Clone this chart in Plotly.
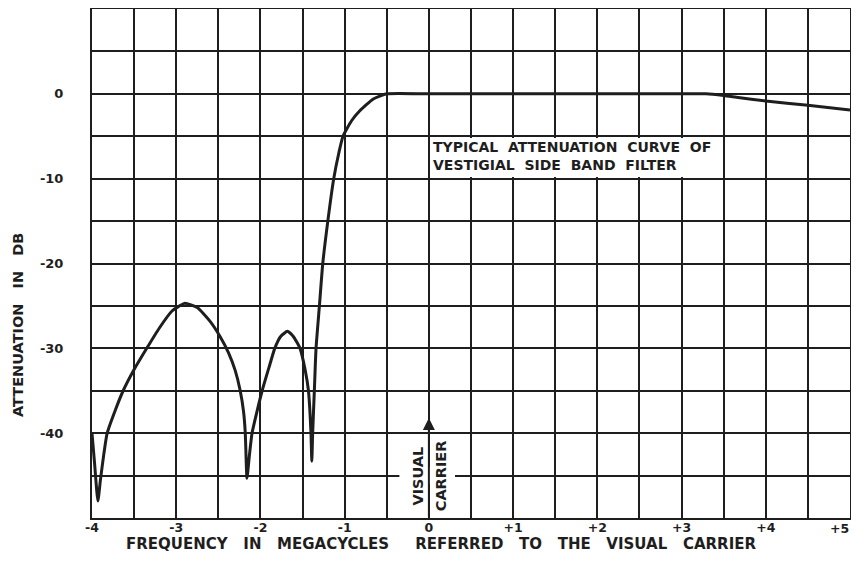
import plotly.graph_objects as go

# Attenuation curve (MHz relative to visual carrier, dB)
freq_mhz = [-4.00, -3.97, -3.93, -3.90, -3.86, -3.82, -3.72, -3.63, -3.50, -3.35, -3.20, -3.05,
            -2.90, -2.75, -2.60, -2.48, -2.38, -2.30, -2.24, -2.20, -2.18, -2.16,
            -2.13, -2.10, -2.04, -1.98, -1.90, -1.83, -1.76, -1.68, -1.61, -1.53, -1.47, -1.43,
            -1.40, -1.39, -1.38, -1.36, -1.34, -1.30, -1.26, -1.20, -1.13, -1.07, -1.02,
            -0.92, -0.82, -0.66, -0.50, 0.0, 1.0, 2.0, 3.0, 3.29, 3.5, 3.65, 4.0, 4.5, 5.0]
atten_db = [-40.0, -43.5, -48.0, -45.5, -42.5, -40.0, -37.2, -35.0, -32.5, -30.0, -27.6, -25.6,
            -24.7, -25.2, -26.8, -28.6, -30.5, -32.6, -35.0, -37.5, -40.0, -45.3,
            -42.5, -40.0, -37.4, -35.0, -32.3, -30.0, -28.6, -28.0, -28.6, -30.0, -32.5, -35.0,
            -40.0, -43.3, -40.0, -35.0, -30.0, -25.0, -20.0, -15.0, -10.0, -7.0, -5.0,
            -3.2, -2.0, -0.6, 0.0, 0.0, 0.0, 0.0, 0.0, 0.0, -0.2, -0.4, -0.85, -1.35, -1.9]

x_tick_vals = [-4, -3, -2, -1, 0, 1, 2, 3, 4, 5]
x_tick_text = ["-4", "-3", "-2", "-1", "0", "+1", "+2", "+3", "+4", "+5"]
y_tick_vals = [0, -10, -20, -30, -40]
y_tick_text = ["0", "-10", "-20", "-30", "-40"]

INK = "#1e1e1e"
FONT = "DejaVu Sans"

# page body has an 8px margin; size the figure so the page does not overflow vertically
OFF = 8
W, H = 859 - OFF, 575 - 2 * OFF
ML, MR, MT = 92 - OFF, 9, 9 - OFF
MB = H - (518 - OFF)
PW, PH = W - ML - MR, H - MT - MB


def px_to_paper(sx, sy):
    """screen pixel -> paper coordinates"""
    fx, fy = sx - OFF, sy - OFF
    return (fx - ML) / PW, (H - MB - fy) / PH


fig = go.Figure()
fig.add_trace(go.Scatter(x=freq_mhz, y=atten_db, mode="lines",
                         line=dict(color=INK, width=3, shape="spline", smoothing=0.5),
                         hoverinfo="skip", showlegend=False))

fig.update_layout(
    width=W, height=H,
    margin=dict(l=ML, r=MR, t=MT, b=MB, autoexpand=False),
    paper_bgcolor="white", plot_bgcolor="white",
    font=dict(family=FONT, color=INK, size=13, weight="bold"),
    showlegend=False,
)
# the last tick label sits flush against the right frame, so it is placed separately
fig.update_xaxes(range=[-4, 5], tickvals=x_tick_vals[:-1], ticktext=x_tick_text[:-1],
                 showgrid=True, gridcolor=INK, gridwidth=1.6,
                 minor=dict(dtick=0.5, showgrid=True, gridcolor=INK, gridwidth=1.6),
                 showline=True, linecolor=INK, linewidth=2, mirror=True,
                 zeroline=False, ticks="", ticklabelstandoff=-3,
                 ticklabeloverflow="allow",
                 tickfont=dict(family=FONT, size=12.5, weight="bold", color=INK))
fig.add_annotation(x=x_tick_vals[-1], y=0, xref="x", yref="paper", text=x_tick_text[-1],
                   xanchor="right", yanchor="top", xshift=1, yshift=-1, showarrow=False,
                   font=dict(family=FONT, size=12.5, weight="bold", color=INK))
fig.update_yaxes(range=[-50, 10], tickvals=y_tick_vals, ticktext=y_tick_text,
                 showgrid=True, gridcolor=INK, gridwidth=1.6,
                 minor=dict(dtick=5, showgrid=True, gridcolor=INK, gridwidth=1.6),
                 showline=True, linecolor=INK, linewidth=2, mirror=True,
                 zeroline=False, ticks="", ticklabelstandoff=24,
                 ticklabeloverflow="allow",
                 tickfont=dict(family=FONT, size=13, weight="bold", color=INK))

# white label box over the grid
fig.add_shape(type="rect", xref="x", yref="y", x0=0.03, x1=3.46, y0=-9.8, y1=-5.2,
              fillcolor="white", line=dict(width=0), layer="above")
# gap in the -45 grid line around the carrier label
fig.add_shape(type="rect", xref="x", yref="y", x0=-0.35, x1=0.31, y0=-46, y1=-44,
              fillcolor="white", line=dict(width=0), layer="above")

fig.add_annotation(x=0.02, y=-7.3, xref="x", yref="y", xanchor="left", yanchor="middle",
                   text="TYPICAL  ATTENUATION  CURVE  OF<br>VESTIGIAL  SIDE  BAND  FILTER",
                   showarrow=False, align="left",
                   font=dict(family=FONT, size=14, weight="bold", color=INK))

# carrier arrow
fig.add_annotation(x=0, y=-38.2, ax=0, ay=-50, xref="x", yref="y", axref="x", ayref="y",
                   text="", showarrow=True, arrowhead=2, arrowsize=1.2, arrowwidth=2,
                   arrowcolor=INK)
fig.add_annotation(x=-0.13, y=-45, xref="x", yref="y", text="VISUAL", textangle=-90,
                   showarrow=False, font=dict(family=FONT, size=14.5, weight="bold", color=INK))
fig.add_annotation(x=0.14, y=-45, xref="x", yref="y", text="CARRIER", textangle=-90,
                   showarrow=False, font=dict(family=FONT, size=14.5, weight="bold", color=INK))

# axis titles
yx, yy = px_to_paper(18, 325)
fig.add_annotation(x=yx, y=yy, xref="paper", yref="paper", text="ATTENUATION   IN   DB",
                   textangle=-90, showarrow=False, xanchor="center", yanchor="middle",
                   font=dict(family=FONT, size=14.5, weight="bold", color=INK))
tx, ty = px_to_paper(441, 544)
fig.add_annotation(x=tx, y=ty, xref="paper", yref="paper",
                   text="FREQUENCY   IN   MEGACYCLES     REFERRED   TO   THE   VISUAL   CARRIER",
                   showarrow=False, xanchor="center", yanchor="middle",
                   font=dict(family=FONT, size=15, weight="bold", color=INK))

fig.write_html("out.html")
